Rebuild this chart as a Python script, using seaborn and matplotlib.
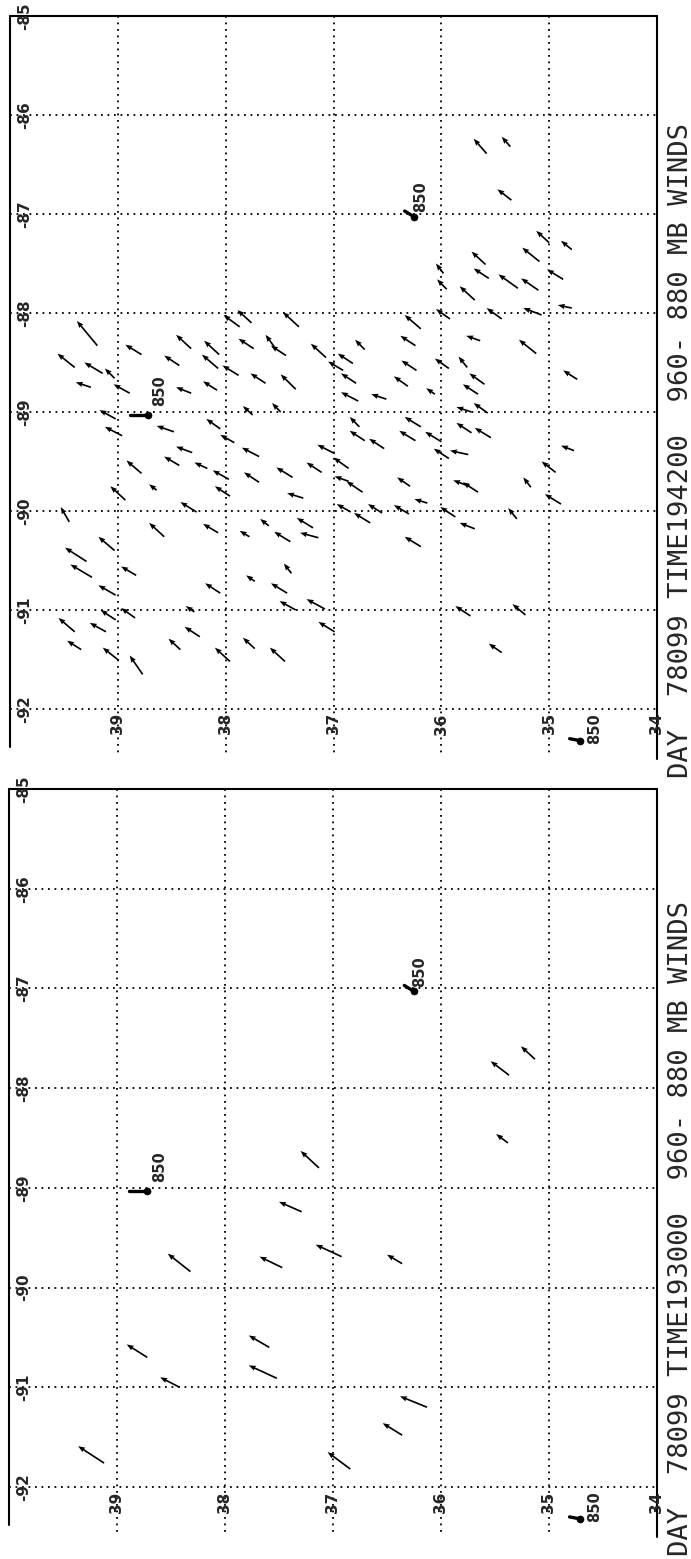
import numpy as np
import pandas as pd
import seaborn as sns
import matplotlib
matplotlib.use("Agg")
import matplotlib.pyplot as plt

sns.set_style("white")
plt.rcParams['font.family'] = ['DejaVu Sans']

# %% grid / ticks
lon_ticks = [-92, -91, -90, -89, -88, -87, -86, -85]
lat_ticks = [39, 38, 37, 36, 35, 34]

# %% 850 mb rawinsonde stations (same in both frames)
stn_lat = [36.25, 38.72, 34.71]
stn_lon = [-87.03, -89.03, -92.32]
stn_v = [0.09, 0.17, 0.10]     # northward shaft, deg
stn_u = [0.06, 0.00, 0.02]     # eastward shaft, deg
stn_text_off = [(6, 20), (12, 24), (14, 12)]   # pixels
stn_label = "850"

# %% frame 1: 19:42:00 cloud-drift winds (tail lat, lon, north comp, east comp)
t1_lat = [39.19, 39.40, 39.14, 39.03, 39.25, 38.89, 38.78, 38.32, 38.43, 38.32,
          38.06, 38.07, 38.08, 37.88, 37.87, 39.02, 37.76, 37.32, 37.74, 37.44,
          37.55, 37.07, 37.63, 37.35, 37.49, 37.75, 36.91, 36.82, 36.71, 36.79,
          36.77, 36.51, 36.19, 36.24, 36.23, 36.31, 36.06, 35.95, 35.69, 35.56,
          35.92, 35.93, 35.76, 35.64, 35.60, 35.66, 35.72, 35.57, 38.96, 38.48,
          38.05, 37.92, 38.31, 38.43, 38.78, 38.17, 37.97, 38.93, 38.64, 37.96,
          38.27, 39.45, 38.57, 38.07, 39.03, 39.29, 39.24, 38.83, 39.02, 38.05,
          39.02, 38.84, 38.29, 39.40, 39.11, 38.24, 39.34, 38.42, 36.76, 36.71,
          36.53, 36.19, 36.24, 36.00, 35.72, 35.54, 35.93, 35.75, 37.69, 36.99,
          36.86, 37.69, 37.38, 37.11, 36.86, 36.73, 37.28, 36.29, 36.13, 35.74,
          35.66, 36.84, 36.66, 36.55, 36.30, 35.87, 37.19, 37.60, 37.14, 37.40,
          37.78, 35.69, 36.19, 37.39, 37.73, 37.43, 37.35, 37.08, 35.73, 36.99,
          37.73, 38.99, 38.77, 37.96, 37.45, 35.44, 35.22, 34.77, 34.94, 35.17,
          34.89, 35.30, 35.58, 35.36, 35.35, 35.00, 34.79, 35.59, 35.09, 35.98,
          35.29, 35.10, 34.87, 35.44, 35.07, 34.79, 35.12, 34.74]
t1_lon = [-88.33, -88.55, -88.61, -88.66, -88.75, -88.81, -88.42, -88.36, -88.53, -88.81,
          -88.42, -88.56, -88.78, -88.63, -88.14, -89.07, -88.10, -88.14, -88.36, -88.43,
          -88.34, -88.45, -88.71, -88.77, -89.00, -89.03, -88.58, -88.51, -88.37, -88.71,
          -88.89, -88.87, -88.16, -88.33, -88.58, -88.74, -88.82, -87.76, -87.87, -87.65,
          -88.06, -88.56, -88.55, -88.28, -88.72, -88.82, -89.00, -89.01, -89.24, -89.20,
          -89.17, -89.31, -89.41, -89.54, -89.62, -89.57, -89.68, -89.89, -89.79, -89.85,
          -90.01, -90.11, -90.26, -90.22, -90.40, -90.51, -90.67, -90.65, -90.85, -90.83,
          -91.10, -91.08, -91.02, -91.22, -91.22, -91.27, -91.40, -91.40, -89.15, -89.29,
          -89.37, -89.15, -89.29, -89.30, -89.21, -89.26, -89.47, -89.43, -89.45, -89.42,
          -89.57, -89.71, -89.66, -89.61, -89.70, -89.81, -89.87, -89.75, -89.92, -89.75,
          -89.81, -90.01, -90.12, -90.02, -90.03, -90.06, -90.17, -90.15, -90.27, -90.31,
          -90.26, -90.18, -90.36, -90.63, -90.71, -90.83, -91.00, -90.99, -91.06, -91.22,
          -91.39, -91.51, -91.65, -91.52, -91.52, -91.43, -91.05, -89.39, -89.61, -89.76,
          -89.93, -90.08, -86.39, -86.32, -86.86, -87.29, -87.36, -87.51, -87.48, -87.60,
          -87.75, -87.77, -87.66, -88.06, -88.02, -87.95, -88.41, -88.67]
t1_v = [0.19, 0.16, 0.17, 0.09, 0.14, 0.15, 0.15, 0.14, 0.14, 0.14,
        0.14, 0.15, 0.13, 0.15, 0.15, 0.15, 0.13, 0.15, 0.14, 0.14,
        0.08, 0.14, 0.14, 0.14, 0.08, 0.09, 0.14, 0.14, 0.09, 0.14,
        0.16, 0.14, 0.15, 0.14, 0.14, 0.13, 0.08, 0.09, 0.14, 0.14,
        0.13, 0.13, 0.08, 0.13, 0.14, 0.14, 0.14, 0.13, 0.16, 0.16,
        0.13, 0.13, 0.15, 0.14, 0.14, 0.12, 0.15, 0.14, 0.07, 0.14,
        0.15, 0.08, 0.14, 0.14, 0.15, 0.20, 0.20, 0.14, 0.16, 0.14,
        0.14, 0.13, 0.08, 0.15, 0.15, 0.14, 0.13, 0.11, 0.09, 0.14,
        0.14, 0.15, 0.15, 0.15, 0.14, 0.15, 0.14, 0.17, 0.16, 0.16,
        0.14, 0.14, 0.15, 0.14, 0.13, 0.15, 0.15, 0.12, 0.12, 0.15,
        0.14, 0.13, 0.15, 0.13, 0.14, 0.14, 0.15, 0.08, 0.17, 0.15,
        0.09, 0.14, 0.15, 0.07, 0.08, 0.15, 0.15, 0.17, 0.14, 0.15,
        0.11, 0.15, 0.12, 0.14, 0.14, 0.12, 0.12, 0.12, 0.13, 0.07,
        0.15, 0.08, 0.12, 0.08, 0.13, 0.12, 0.10, 0.13, 0.16, 0.07,
        0.18, 0.16, 0.15, 0.14, 0.17, 0.13, 0.16, 0.13]
t1_u = [0.25, 0.14, 0.11, 0.10, 0.05, 0.09, 0.10, 0.14, 0.10, 0.06,
        0.14, 0.14, 0.09, 0.10, 0.12, 0.09, 0.13, 0.15, 0.10, 0.10,
        0.12, 0.14, 0.10, 0.15, 0.09, 0.09, 0.09, 0.10, 0.10, 0.10,
        0.09, 0.05, 0.14, 0.10, 0.10, 0.10, 0.06, 0.10, 0.14, 0.10,
        0.10, 0.10, 0.11, 0.05, 0.11, 0.10, 0.05, 0.10, 0.09, 0.06,
        0.10, 0.08, 0.06, 0.09, 0.13, 0.06, 0.09, 0.14, 0.06, 0.10,
        0.10, 0.15, 0.14, 0.09, 0.14, 0.14, 0.13, 0.09, 0.10, 0.10,
        0.10, 0.10, 0.06, 0.14, 0.09, 0.10, 0.09, 0.11, 0.10, 0.10,
        0.10, 0.10, 0.10, 0.10, 0.10, 0.10, 0.10, 0.04, 0.09, 0.09,
        0.11, 0.10, 0.10, 0.10, 0.05, 0.11, 0.05, 0.09, 0.04, 0.06,
        0.10, 0.08, 0.10, 0.09, 0.09, 0.10, 0.10, 0.07, 0.05, 0.10,
        0.06, 0.06, 0.10, 0.10, 0.06, 0.10, 0.09, 0.10, 0.10, 0.10,
        0.11, 0.13, 0.19, 0.14, 0.14, 0.09, 0.11, 0.05, 0.11, 0.10,
        0.10, 0.11, 0.15, 0.10, 0.11, 0.12, 0.09, 0.13, 0.14, 0.10,
        0.14, 0.12, 0.10, 0.11, 0.07, 0.03, 0.14, 0.09]

# %% frame 2: 19:30:00
t2_lat = [39.12, 36.84, 36.36, 36.13, 38.72, 38.42, 37.59, 37.52, 38.32, 37.47,
          36.92, 36.36, 37.29, 37.13, 35.37, 35.13, 35.38]
t2_lon = [-91.76, -91.82, -91.48, -91.20, -90.70, -91.00, -90.60, -90.91, -89.84, -89.80,
          -89.69, -89.76, -89.24, -88.80, -87.87, -87.71, -88.55]
t2_v = [0.24, 0.21, 0.18, 0.25, 0.19, 0.18, 0.19, 0.26, 0.21, 0.21,
        0.24, 0.14, 0.21, 0.17, 0.17, 0.13, 0.11]
t2_u = [0.17, 0.17, 0.12, 0.11, 0.13, 0.10, 0.12, 0.13, 0.18, 0.11,
        0.12, 0.09, 0.10, 0.17, 0.14, 0.13, 0.09]

titles = ["DAY  78099 TIME194200  960- 880 MB WINDS",
          "DAY  78099 TIME193000  960- 880 MB WINDS"]

W, H = 691, 1559
fig = plt.figure(figsize=(W / 100, H / 100), dpi=100)

# panel frames in pixels: (left, top, right, bottom)
frames = [(10, 16, 657, 709), (9, 789, 657, 1487)]
title_start = [778, 1556]


def draw_panel(ax, lat, lon, v, u):
    ax.set_xlim(40, 34)
    ax.set_ylim(-92, -85)
    ax.set_xticks([])
    ax.set_yticks([])
    for s in ax.spines.values():
        s.set_visible(False)

    dots = (0, (1, 2.6))
    for lt in lat_ticks[:-1]:
        ax.plot([lt, lt], [-85, -92.45], ls=dots, lw=1.3, color='k', clip_on=False)
    for ln in lon_ticks[:-1]:
        ax.plot([40, 34], [ln, ln], ls=dots, lw=1.3, color='k', clip_on=False)
    # solid frame pieces
    ax.plot([40, 34], [-85, -85], color='k', lw=1.5, clip_on=False)
    ax.plot([40, 40], [-85, -92.38], color='k', lw=1.5, clip_on=False)
    ax.plot([34, 34], [-85, -92.5], color='k', lw=1.5, clip_on=False)

    for ln in lon_ticks:
        ax.text(39.86, ln, str(ln), rotation=90, ha='center', va='center',
                fontsize=11, fontweight='bold')
    for lt in lat_ticks:
        ax.text(lt, -92.15, str(lt), rotation=90, ha='center', va='center',
                fontsize=11, fontweight='bold')

    ax.quiver(lat, lon, v, u, angles='xy', scale_units='xy', scale=1,
              color='k', width=0.0026, headwidth=3.2, headlength=4.2,
              headaxislength=3.8, clip_on=False)

    # stations
    for la, lo, sv, su, off in zip(stn_lat, stn_lon, stn_v, stn_u, stn_text_off):
        ax.plot([la, la + sv], [lo, lo + su], color='k', lw=2.4, clip_on=False)
        ax.annotate(stn_label, (la, lo), xytext=off, textcoords='offset pixels',
                    rotation=90, ha='center', va='center', fontsize=10.5,
                    fontweight='bold', annotation_clip=False)
    st = pd.DataFrame({'lat': stn_lat, 'lon': stn_lon})
    sns.scatterplot(data=st, x='lat', y='lon', ax=ax, color='k', s=26,
                    edgecolor='k', legend=False, clip_on=False)
    ax.set_xlabel('')
    ax.set_ylabel('')


data = [(t1_lat, t1_lon, t1_v, t1_u), (t2_lat, t2_lon, t2_v, t2_u)]
for (l, t, r, b), d, ttl, ty in zip(frames, data, titles, title_start):
    ax = fig.add_axes([l / W, 1 - b / H, (r - l) / W, (b - t) / H])
    draw_panel(ax, *d)
    fig.text(681 / W, 1 - ty / H, ttl, rotation=90, ha='center', va='bottom',
             fontsize=19.5, family='DejaVu Sans Mono')

fig.savefig('out.png', dpi=100)
